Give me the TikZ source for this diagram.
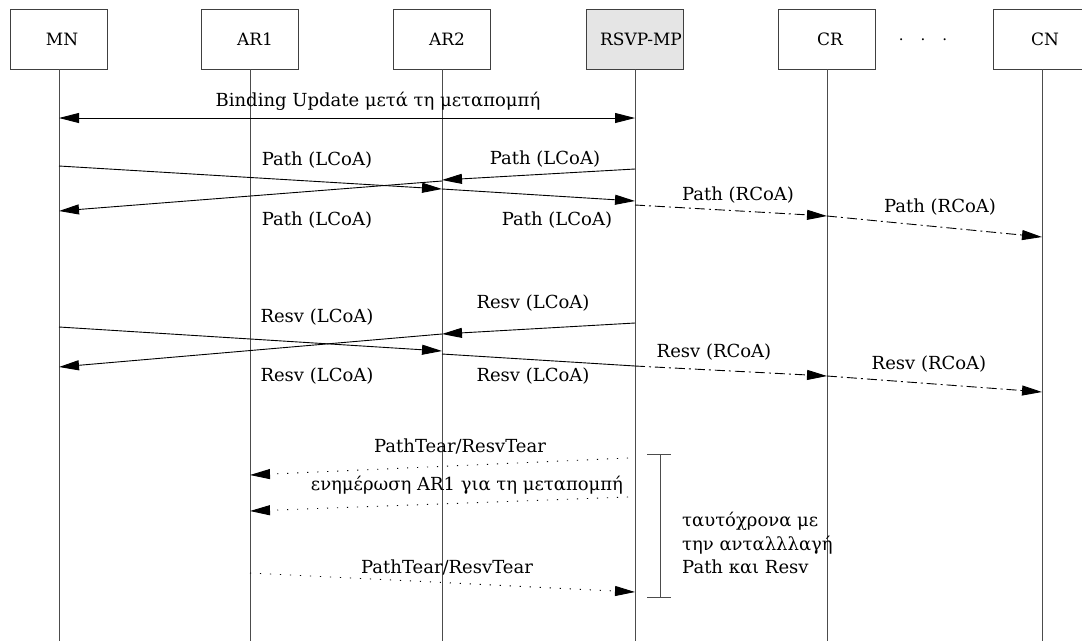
\documentclass[tikz,border=0pt]{standalone}
\usepackage{fontspec}
\setmainfont{DejaVu Serif}
\usetikzlibrary{arrows.meta}
\begin{document}
\begin{tikzpicture}[x=1pt,y=-1pt,
  entity/.style={draw=black!75, line width=0.9pt, minimum width=97pt, minimum height=60pt,
    inner sep=0pt, font=\fontsize{17}{20}\selectfont, text depth=0pt},
  life/.style={draw=black!70, line width=0.9pt},
  msg/.style={draw=black, line width=0.9pt, -{Triangle[length=20pt,width=10pt]}},
  dmsg/.style={msg, dash pattern=on 10pt off 4pt on 2pt off 4pt},
  tmsg/.style={msg, dash pattern=on 1.2pt off 8.8pt},
  lbl/.style={font=\fontsize{18}{21}\selectfont, inner sep=0pt, anchor=base},
  note/.style={font=\fontsize{18}{23.5}\selectfont, inner sep=0pt, align=left, anchor=north west}]
\useasboundingbox (0,0) rectangle (1082,641);
\fill[white] (0,0) rectangle (1082,641);

% participants
\node[entity] (mn)   at (59,39)   {\hspace{6pt}MN};
\node[entity] (ar1)  at (250,39)  {\hspace{10pt}AR1};
\node[entity] (ar2)  at (442,39)  {\hspace{10pt}AR2};
\node[entity, fill=black!10] (rsvp) at (635,39) {\hspace{12pt}RSVP-MP};
\node[entity] (cr)   at (827,39)  {\hspace{6pt}CR};
\node[entity] (cn)   at (1042,39) {\hspace{6pt}CN};
\node[font=\fontsize{15}{18}\selectfont, inner sep=0pt] (dots) at (923,40) {.\hspace{17pt}.\hspace{17pt}.};

% lifelines
\foreach \p in {mn,ar1,ar2,rsvp,cr,cn}
  \draw[life] (\p.south) -- (\p.south |- 0,641);

% message end points on the lifelines
\foreach \p/\x in {mn/59,ar1/250,ar2/442,rsvp/635,cr/827,cn/1042}{
  \foreach \y in {118,166,169,180,181,189,201,205,211,216,237,
                  323,327,334,351,354,366,367,376,392,458,475,497,511,573,592}
    \coordinate (\p-\y) at (\x,\y);
}
\coordinate (rsvpA-458) at (628,458);
\coordinate (rsvpA-497) at (628,497);

% binding update
\draw[msg, {Triangle[length=20pt,width=10pt]}-{Triangle[length=20pt,width=10pt]}] (mn-118) -- (rsvp-118);
\node[lbl] (bu) at (378,106) {Binding Update μετά τη μεταπομπή};

% Path messages
\draw[msg] (mn-166) -- (ar2-189);
\draw[msg] (rsvp-169) -- (ar2-180);
\draw[msg] (ar2-181) -- (mn-211);
\draw[msg] (ar2-189) -- (rsvp-201);
\draw[dmsg] (rsvp-205) -- (cr-216);
\draw[dmsg] (cr-216) -- (cn-237);
\node[lbl] (l1) at (317,165) {Path (LCoA)};
\node[lbl] (l2) at (545,164) {Path (LCoA)};
\node[lbl] (l3) at (317,225) {Path (LCoA)};
\node[lbl] (l4) at (557,225) {Path (LCoA)};
\node[lbl] (l5) at (738,200) {Path (RCoA)};
\node[lbl] (l6) at (940,212) {Path (RCoA)};

% Resv messages
\draw[msg] (mn-327) -- (ar2-351);
\draw[msg] (rsvp-323) -- (ar2-334);
\draw[msg] (ar2-334) -- (mn-367);
\draw[draw=black, line width=0.9pt] (ar2-354) -- (rsvp-366);
\draw[dmsg] (rsvp-366) -- (cr-376);
\draw[dmsg] (cr-376) -- (cn-392);
\node[lbl] (r1) at (317,322) {Resv (LCoA)};
\node[lbl] (r2) at (533,308) {Resv (LCoA)};
\node[lbl] (r3) at (317,381) {Resv (LCoA)};
\node[lbl] (r4) at (533,381) {Resv (LCoA)};
\node[lbl] (r5) at (714,357) {Resv (RCoA)};
\node[lbl] (r6) at (929,369) {Resv (RCoA)};

% teardown
\draw[tmsg] (rsvpA-458) -- (ar1-475);
\draw[tmsg] (rsvpA-497) -- (ar1-511);
\draw[tmsg] (ar1-573) -- (rsvp-592);
\node[lbl] (t1) at (460,452) {PathTear/ResvTear};
\node[lbl] (t2) at (467,490) {ενημέρωση AR1 για τη μεταπομπή};
\node[lbl] (t3) at (447,573) {PathTear/ResvTear};

% simultaneity bracket
\coordinate (bt) at (660,454);
\coordinate (bb) at (660,597);
\draw[draw=black!70, line width=0.9pt] (bt) -- (bb);
\draw[draw=black!70, line width=0.9pt] ([xshift=-13pt]bt) -- ([xshift=11pt]bt);
\draw[draw=black!70, line width=0.9pt] ([xshift=-13pt]bb) -- ([xshift=11pt]bb);
\node[note] (nt) at (682,512) {ταυτόχρονα με\\την ανταλλλαγή\\Path και Resv};
\end{tikzpicture}
\end{document}
